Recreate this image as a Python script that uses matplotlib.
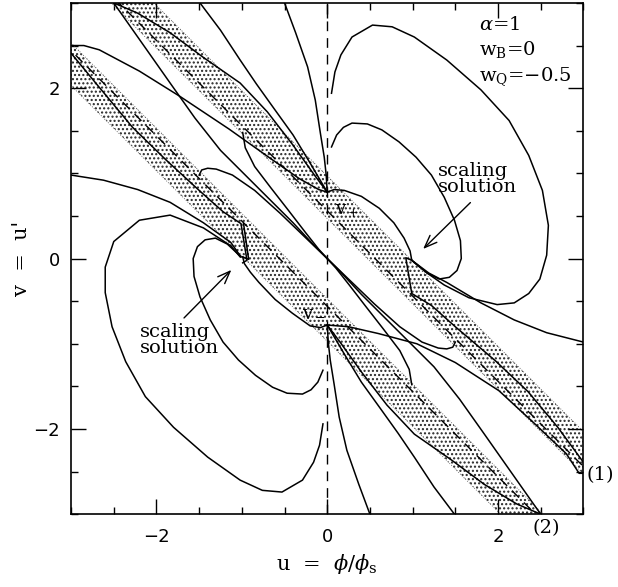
import numpy as np
import matplotlib.pyplot as plt
from matplotlib.ticker import MultipleLocator

plt.rcParams['mathtext.fontset'] = 'dejavuserif'
plt.rcParams['hatch.color'] = '0.15'
plt.rcParams['hatch.linewidth'] = 1.0

# ---- traced trajectories (u, v) ----
# upper-right loops into the scaling point
A_u = [0.05, 0.09, 0.16, 0.29, 0.53, 0.76, 1.02, 1.40, 1.80, 2.13, 2.36, 2.52, 2.59, 2.57, 2.49, 2.36, 2.19, 1.99, 1.66, 1.37, 1.17, 0.99]
A_v = [1.94, 2.19, 2.39, 2.60, 2.74, 2.72, 2.60, 2.33, 1.98, 1.62, 1.21, 0.80, 0.39, 0.04, -0.24, -0.41, -0.52, -0.54, -0.46, -0.31, -0.17, -0.02]
B_u = [0.05, 0.11, 0.19, 0.29, 0.47, 0.64, 0.84, 1.04, 1.22, 1.37, 1.49, 1.56, 1.57, 1.52, 1.43, 1.31, 1.17, 0.99]
B_v = [1.31, 1.45, 1.54, 1.59, 1.58, 1.51, 1.37, 1.19, 0.98, 0.72, 0.45, 0.21, 0.00, -0.14, -0.22, -0.24, -0.17, -0.02]
C_u = [0.00, 0.08, 0.20, 0.40, 0.61, 0.78, 0.90, 0.97, 0.99]
C_v = [0.78, 0.81, 0.80, 0.73, 0.59, 0.42, 0.24, 0.09, -0.02]
D_u = [0.99, 1.19, 1.40, 1.80, 2.19, 2.57, 3.00]
D_v = [-0.02, -0.17, -0.28, -0.52, -0.72, -0.87, -0.98]
K_u = [0.99, 0.92, 0.99, 1.22, 1.50, 1.97, 2.35, 2.70, 3.00]
K_v = [-0.02, 0.01, -0.41, -0.55, -0.80, -1.20, -1.56, -1.98, -2.39]

# lower-left loops into the other scaling point
A2_u = [-0.05, -0.09, -0.16, -0.29, -0.53, -0.76, -1.02, -1.40, -1.80, -2.13, -2.36, -2.52, -2.60, -2.60, -2.50, -2.20, -1.84, -1.45, -1.13, -1.02]
A2_v = [-1.94, -2.19, -2.39, -2.60, -2.74, -2.72, -2.60, -2.33, -1.98, -1.62, -1.21, -0.80, -0.40, -0.10, 0.20, 0.45, 0.51, 0.36, 0.15, 0.02]
B2_u = [-0.05, -0.11, -0.19, -0.29, -0.47, -0.64, -0.84, -1.04, -1.22, -1.37, -1.49, -1.56, -1.57, -1.52, -1.43, -1.31, -1.17, -1.01]
B2_v = [-1.31, -1.45, -1.54, -1.59, -1.58, -1.51, -1.37, -1.19, -0.98, -0.72, -0.45, -0.21, 0.00, 0.14, 0.22, 0.24, 0.17, 0.02]
C2_u = [0.00, -0.08, -0.20, -0.41, -0.61, -0.80, -0.90, -0.97, -0.99]
C2_v = [-0.78, -0.81, -0.79, -0.64, -0.48, -0.28, -0.16, -0.06, 0.02]
H_u = [-1.01, -1.13, -1.45, -1.84, -2.22, -2.62, -3.00]
H_v = [0.02, 0.19, 0.42, 0.66, 0.81, 0.92, 0.98]
L_u = [-3.00, -2.67, -2.28, -1.88, -1.50, -1.22, -1.01, -0.94, -0.99]
L_v = [2.41, 2.01, 1.54, 1.15, 0.80, 0.55, 0.41, -0.02, -0.05]

# trajectories ending at v+ (upper) and leaving v- (lower)
E_u = [-0.50, -0.37, -0.23, -0.14, -0.08, -0.035, -0.012, 0.00]
E_v = [3.00, 2.65, 2.25, 1.86, 1.47, 1.19, 0.98, 0.78]
Cc_u = [-1.49, -1.25, -1.02, -0.83, -0.63, -0.40, -0.20, 0.00]
Cc_v = [3.00, 2.68, 2.33, 2.05, 1.77, 1.45, 1.12, 0.78]
Bb_u = [-2.50, -2.22, -1.84, -1.45, -1.02, -0.70, -0.40, -0.15, 0.00]
Bb_v = [3.00, 2.88, 2.65, 2.36, 2.06, 1.72, 1.33, 0.98, 0.78]
G_u = [-3.00, -2.85, -2.67, -2.20, -1.72, -1.15, -0.70, -0.33, -0.10, 0.00]
G_v = [2.50, 2.50, 2.45, 2.20, 1.90, 1.52, 1.20, 0.94, 0.81, 0.78]
E2_u = [0.50, 0.37, 0.23, 0.14, 0.08, 0.035, 0.012, 0.00]
E2_v = [-3.00, -2.65, -2.25, -1.86, -1.47, -1.19, -0.98, -0.78]
Cc2_u = [1.49, 1.25, 1.02, 0.83, 0.63, 0.40, 0.20, 0.00]
Cc2_v = [-3.00, -2.68, -2.33, -2.05, -1.77, -1.45, -1.12, -0.78]
Bb2_u = [2.50, 2.22, 1.84, 1.45, 1.02, 0.70, 0.40, 0.15, 0.00]
Bb2_v = [-3.00, -2.88, -2.65, -2.36, -2.06, -1.72, -1.33, -0.98, -0.78]
G2_u = [3.00, 2.95, 2.80, 2.40, 2.01, 1.50, 1.05, 0.60, 0.25, 0.00]
G2_v = [-2.52, -2.52, -2.29, -1.91, -1.55, -1.22, -1.00, -0.88, -0.80, -0.78]

# trajectories through the origin
a_u = [-2.50, -2.17, -1.84, -1.55, -1.25, -1.02, -0.70, -0.40, -0.15, 0.00, 0.15, 0.40, 0.70, 1.02, 1.25, 1.55, 1.84, 2.17, 2.50]
a_v = [3.00, 2.53, 2.06, 1.65, 1.27, 1.04, 0.72, 0.42, 0.15, 0.00, -0.15, -0.42, -0.72, -1.04, -1.27, -1.65, -2.06, -2.53, -3.00]
g_u = [-0.99, -0.96, -0.85, -0.66, -0.45, -0.25, -0.10, 0.00]
g_v = [1.48, 1.30, 1.08, 0.83, 0.56, 0.30, 0.11, 0.00]
h_u = [-1.50, -1.47, -1.40, -1.30, -1.11, -0.85, -0.55, -0.28, 0.00]
h_v = [0.98, 1.04, 1.06, 1.05, 0.98, 0.80, 0.53, 0.27, 0.00]
g2_u = [0.99, 0.96, 0.85, 0.66, 0.45, 0.25, 0.10, 0.00]
g2_v = [-1.48, -1.30, -1.08, -0.83, -0.56, -0.30, -0.11, 0.00]
h2_u = [1.50, 1.47, 1.40, 1.30, 1.11, 0.85, 0.55, 0.28, 0.00]
h2_v = [-0.98, -1.04, -1.06, -1.05, -0.98, -0.80, -0.53, -0.27, 0.00]

# cusp near lower-left scaling point
cusp_u = [-0.99, -0.92, -0.98]
cusp_v = [0.02, -0.01, 0.41]

# dashed asymptotes v = -u +/- c and shaded bands
diag_u = [-3.5, 3.5]
dash_up_v = [4.06, -2.94]
dash_lo_v = [2.94, -4.06]
bandU_lo = [3.97, -3.03]
bandU_hi = [4.47, -2.53]
bandL_lo = [2.53, -4.47]
bandL_hi = [3.03, -3.97]

curves = [
    (A_u, A_v), (B_u, B_v), (C_u, C_v), (D_u, D_v), (K_u, K_v),
    (A2_u, A2_v), (B2_u, B2_v), (C2_u, C2_v), (H_u, H_v), (L_u, L_v),
    (E_u, E_v), (Cc_u, Cc_v), (Bb_u, Bb_v), (G_u, G_v),
    (E2_u, E2_v), (Cc2_u, Cc2_v), (Bb2_u, Bb2_v), (G2_u, G2_v),
    (a_u, a_v), (g_u, g_v), (h_u, h_v), (g2_u, g2_v), (h2_u, h2_v),
    (cusp_u, cusp_v),
]

fig = plt.figure(figsize=(6.18, 5.87), dpi=100)
ax = fig.add_axes([0.115, 0.124, 0.829, 0.871])

for lo, hi in [(bandU_lo, bandU_hi), (bandL_lo, bandL_hi)]:
    ax.fill_between(diag_u, lo, hi, facecolor='none', edgecolor='0.15',
                    hatch='....', linewidth=0)
    ax.plot(diag_u, lo, color='0.3', lw=0.6, ls=(0, (1, 2)))
    ax.plot(diag_u, hi, color='0.3', lw=0.6, ls=(0, (1, 2)))

ax.plot(diag_u, dash_up_v, color='k', lw=1.0, dashes=(7, 5))
ax.plot(diag_u, dash_lo_v, color='k', lw=1.0, dashes=(7, 5))
ax.axvline(0, color='k', lw=1.0, dashes=(7, 5))

for cu, cv in curves:
    ax.plot(cu, cv, color='k', lw=1.1)

ax.set_xlim(-3, 3)
ax.set_ylim(-3, 3)
ax.xaxis.set_major_locator(MultipleLocator(2))
ax.yaxis.set_major_locator(MultipleLocator(2))
ax.xaxis.set_minor_locator(MultipleLocator(0.5))
ax.yaxis.set_minor_locator(MultipleLocator(0.5))
ax.tick_params(which='both', direction='in', top=True, right=True, width=1.0)
ax.tick_params(which='major', length=11, labelsize=13, pad=10)
ax.tick_params(which='minor', length=5)
ax.tick_params(axis='y', which='major', pad=8)
for s in ax.spines.values():
    s.set_linewidth(1.2)

ax.set_xlabel(r'u  =  $\phi/\phi_{\rm s}$', fontsize=15, family='DejaVu Serif', labelpad=4)
ax.set_ylabel("v  =  u'", fontsize=15, family='DejaVu Serif', labelpad=2)

tfont = dict(family='DejaVu Serif', fontsize=14)
ax.text(1.78, 2.74, r'$\alpha$=1', va='center', **tfont)
ax.text(1.78, 2.45, r'w$_{\rm B}$=0', va='center', **tfont)
ax.text(1.78, 2.14, r'w$_{\rm Q}$=$-$0.5', va='center', **tfont)
ax.text(0.09, 0.57, r'v$_+$', va='center', fontsize=13, family='DejaVu Serif')
ax.text(-0.29, -0.62, r'v$_-$', va='center', fontsize=13, family='DejaVu Serif')

arrow = dict(arrowstyle='->,head_length=0.9,head_width=0.35', color='k', lw=1.0)
ax.text(1.29, 0.93, 'scaling\nsolution', va='center', ha='left', linespacing=0.85, **tfont)
ax.annotate('', xy=(1.10, 0.09), xytext=(1.70, 0.68), arrowprops=arrow)
ax.text(-2.20, -0.96, 'scaling\nsolution', va='center', ha='left', linespacing=0.85, **tfont)
ax.annotate('', xy=(-1.10, -0.11), xytext=(-1.70, -0.72), arrowprops=arrow)

ax.text(3.04, -2.54, '(1)', va='center', ha='left', clip_on=False, **tfont)
ax.text(2.40, -3.06, '(2)', va='top', ha='left', clip_on=False, **tfont)

fig.savefig('out.png', dpi=100)
